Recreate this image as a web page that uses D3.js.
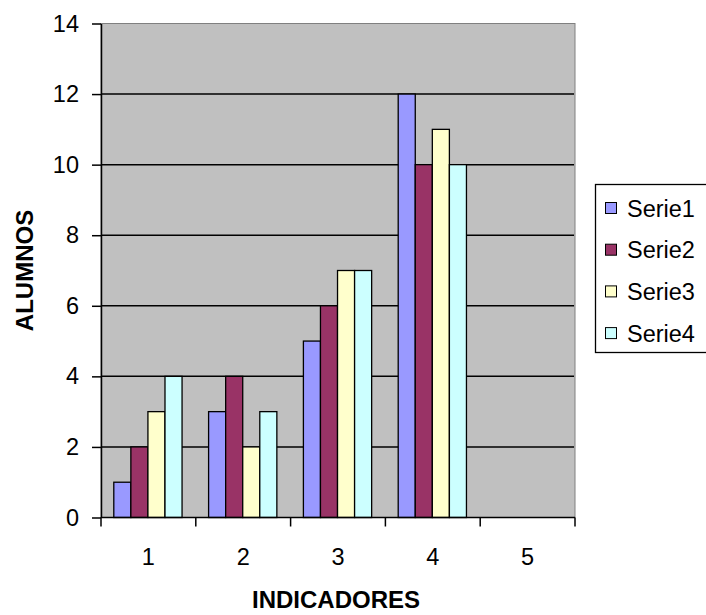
<!DOCTYPE html>
<html>
<head>
<meta charset="utf-8">
<script src="https://cdn.jsdelivr.net/npm/d3@7"></script>
<style>
  body { margin: 0; background: #fff; }
  svg { display: block; font-family: Arial, "Liberation Sans", sans-serif; }
</style>
</head>
<body>
<svg id="chart" width="706" height="615"></svg>
<script>
"use strict";

// data
var categories = ["1", "2", "3", "4", "5"];
var seriesNames = ["Serie1", "Serie2", "Serie3", "Serie4"];
var serie1 = [1, 3, 5, 12, null];
var serie2 = [2, 4, 6, 10, null];
var serie3 = [3, 2, 7, 11, null];
var serie4 = [4, 3, 7, 10, null];
var yTicks = [0, 2, 4, 6, 8, 10, 12, 14];
var seriesColors = ["#9999ff", "#993366", "#ffffcc", "#ccffff"];

var seriesValues = [serie1, serie2, serie3, serie4];

var svg = d3.select("#chart");
var plot = { left: 101, right: 575, top: 23.5, bottom: 517.5 };
var fontSize = 23.5;

var x = d3.scaleBand().domain(categories).range([plot.left, plot.right]);
var xSub = d3.scaleBand().domain(seriesNames)
    .range([x.bandwidth() * 0.135, x.bandwidth() * 0.855]);
var y = d3.scaleLinear().domain([0, 14]).range([plot.bottom, plot.top]);

// grey plot background
svg.append("rect")
    .attr("x", plot.left).attr("y", plot.top)
    .attr("width", plot.right - plot.left).attr("height", plot.bottom - plot.top)
    .attr("fill", "#c0c0c0")
    .attr("stroke", "#808080").attr("stroke-width", 1);

// horizontal gridlines
svg.append("g").selectAll("line")
    .data(yTicks.filter(function(d) { return d > 0 && d < 14; }))
    .enter().append("line")
    .attr("x1", plot.left).attr("x2", plot.right - 1)
    .attr("y1", function(d) { return y(d); })
    .attr("y2", function(d) { return y(d); })
    .attr("stroke", "#000").attr("stroke-width", 1.5);

// bars
var bars = [];
seriesValues.forEach(function(vals, s) {
    vals.forEach(function(v, i) {
        if (v !== null) bars.push({ cat: categories[i], serie: seriesNames[s], value: v, color: seriesColors[s] });
    });
});

svg.append("g").selectAll("rect")
    .data(bars)
    .enter().append("rect")
    .attr("x", function(d) { return x(d.cat) + xSub(d.serie); })
    .attr("y", function(d) { return y(d.value); })
    .attr("width", xSub.bandwidth())
    .attr("height", function(d) { return y(0) - y(d.value); })
    .attr("fill", function(d) { return d.color; })
    .attr("stroke", "#000").attr("stroke-width", 1.3);

// y axis
var yAxis = d3.axisLeft(y).tickValues(yTicks).tickSize(9).tickPadding(13).tickSizeOuter(0);
var gy = svg.append("g").attr("transform", "translate(" + plot.left + ",0)").call(yAxis);
gy.attr("font-family", null).attr("font-size", null);
gy.selectAll("text").attr("font-size", fontSize).attr("fill", "#000");
gy.selectAll("line, path").attr("stroke", "#000").attr("stroke-width", 1.5);

// x axis: ticks sit on category boundaries
var xBoundaries = categories.map(function(c) { return x(c); }).concat([plot.right]);
var gx = svg.append("g").attr("transform", "translate(0," + plot.bottom + ")");
gx.append("line")
    .attr("x1", plot.left).attr("x2", plot.right)
    .attr("stroke", "#000").attr("stroke-width", 1.5);
gx.selectAll(".tick-mark")
    .data(xBoundaries)
    .enter().append("line")
    .attr("class", "tick-mark")
    .attr("x1", function(d) { return d; }).attr("x2", function(d) { return d; })
    .attr("y1", 0).attr("y2", 9)
    .attr("stroke", "#000").attr("stroke-width", 1.5);
gx.selectAll(".tick-label")
    .data(categories)
    .enter().append("text")
    .attr("class", "tick-label")
    .attr("x", function(d) { return x(d) + x.bandwidth() / 2; })
    .attr("y", 47)
    .attr("text-anchor", "middle")
    .attr("font-size", fontSize)
    .text(function(d) { return d; });

// axis titles
svg.append("text")
    .attr("x", (plot.left + plot.right) / 2 - 2)
    .attr("y", 608)
    .attr("text-anchor", "middle")
    .attr("font-size", 24).attr("font-weight", "bold")
    .text("INDICADORES");

svg.append("text")
    .attr("transform", "translate(33," + ((plot.top + plot.bottom) / 2) + ") rotate(-90)")
    .attr("text-anchor", "middle")
    .attr("font-size", 24).attr("font-weight", "bold")
    .text("ALUMNOS");

// legend
var legend = svg.append("g");
legend.append("rect")
    .attr("x", 595.5).attr("y", 184.5)
    .attr("width", 125).attr("height", 168)
    .attr("fill", "#fff").attr("stroke", "#000").attr("stroke-width", 1.3);

var rows = legend.selectAll(".row")
    .data(seriesNames)
    .enter().append("g")
    .attr("class", "row")
    .attr("transform", function(d, i) { return "translate(0," + (208 + i * 41.7) + ")"; });
rows.append("rect")
    .attr("x", 605.5).attr("y", -5.5)
    .attr("width", 11).attr("height", 11)
    .attr("fill", function(d, i) { return seriesColors[i]; })
    .attr("stroke", "#000");
rows.append("text")
    .attr("x", 627).attr("y", 8.5)
    .attr("font-size", fontSize)
    .text(function(d) { return d; });
</script>
</body>
</html>
